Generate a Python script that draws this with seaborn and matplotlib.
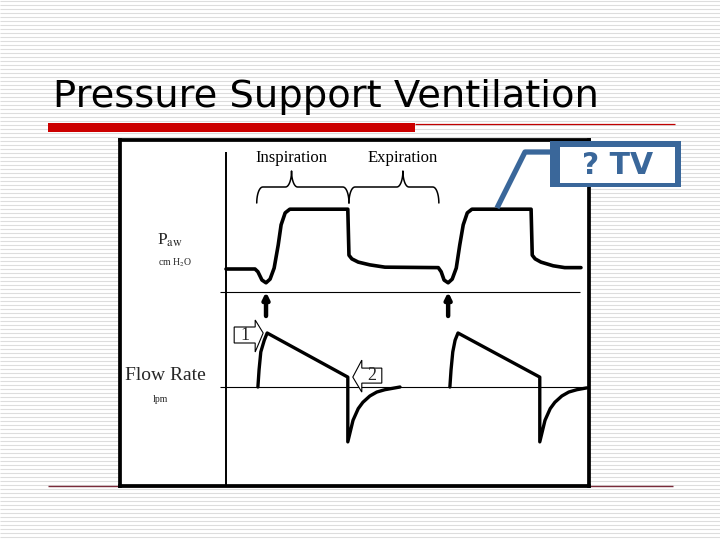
import numpy as np
import pandas as pd
import seaborn as sns
import matplotlib.pyplot as plt
from matplotlib.patches import Rectangle, Polygon

# airway pressure trace (cmH2O) against time (s)
p_time = [0.00, 0.50, 0.55, 0.62, 0.69, 0.76, 0.83, 0.90, 0.95, 1.02, 1.10,
          2.10, 2.12, 2.17, 2.28, 2.48, 2.74,
          3.66, 3.71, 3.76, 3.83, 3.90, 3.97, 4.03, 4.09, 4.16, 4.24,
          5.26, 5.28, 5.33, 5.43, 5.64, 5.84, 6.12]
p_value = [5.0, 5.0, 4.4, 2.6, 2.0, 2.8, 5.2, 10.2, 14.6, 17.2, 18.0,
           18.0, 8.0, 7.2, 6.5, 5.9, 5.4,
           5.3, 4.4, 2.6, 2.0, 2.8, 5.2, 10.2, 14.6, 17.2, 18.0,
           18.0, 8.0, 7.2, 6.5, 5.7, 5.3, 5.3]

# flow trace (lpm), one block per breath
f_breath = [1] * 14 + [2] * 14
f_time = [0.55, 0.57, 0.60, 0.66, 0.71, 2.10, 2.10, 2.19, 2.28, 2.36, 2.48, 2.60, 2.74, 3.00,
          3.86, 3.88, 3.91, 3.95, 4.00, 5.41, 5.41, 5.50, 5.59, 5.67, 5.79, 5.91, 6.05, 6.22]
f_value = [0, 19, 39, 52, 60, 11, -61, -37, -24, -17, -10, -5.6, -3, 0,
           0, 19, 39, 52, 60, 11, -61, -37, -24, -17, -10, -5.6, -3, -1]

# patient triggers and breath phases
trigger_time = [0.69, 3.83]
phase_labels = ["Inspiration", "Expiration"]
phase_start = [0.53, 2.12]
phase_end = [2.12, 3.67]
phase_mid = [1.13, 3.05]

# scale of the drawing: seconds -> px, cmH2O / lpm -> px
PX_PER_S = 58
P_ZERO, P_SCALE = 194, 4.6
F_ZERO, F_SCALE = 99, 0.9

BLUE = "#3A679A"

sns.set_theme(style="white")
plt.rcParams["font.family"] = ["DejaVu Sans"]
plt.rcParams["mathtext.fontset"] = "stix"
SERIF = ["Liberation Serif", "DejaVu Serif"]

fig = plt.figure(figsize=(7.2, 5.4), dpi=100)

# slide background with grey stripes
bg = fig.add_axes([0, 0, 1, 1], zorder=0)
bg.set_xlim(0, 720)
bg.set_ylim(540, 0)
bg.axis("off")
bg.hlines(np.arange(0.5, 540, 4), 0, 720, color="#DDDDDD", lw=0.8)
bg.hlines(486, 48, 673, color="#7A2B3A", lw=1.0)

# the waveform panel
ax = fig.add_axes([120 / 720, 1 - 486 / 540, 469 / 720, 346 / 540], zorder=1)
ax.set_facecolor("white")
ax.set_xlim((120 - 226) / PX_PER_S, (589 - 226) / PX_PER_S)
ax.set_ylim(0, 346)
ax.set_xticks([])
ax.set_yticks([])
for s in ax.spines.values():
    s.set_visible(True)
    s.set_color("black")
    s.set_linewidth(2.7)

# axis lines
ax.vlines(0, 0, 334, color="black", lw=1.4)
ax.hlines(P_ZERO, -6 / PX_PER_S, 354 / PX_PER_S, color="black", lw=0.8)
ax.hlines(F_ZERO, -6 / PX_PER_S, 6.4, color="black", lw=0.8)

p_df = pd.DataFrame({"t": p_time, "y": P_ZERO + np.array(p_value) * P_SCALE})
sns.lineplot(data=p_df, x="t", y="y", sort=False, estimator=None,
             color="black", lw=2.6, ax=ax)

f_df = pd.DataFrame({"breath": f_breath, "t": f_time,
                     "y": F_ZERO + np.array(f_value) * F_SCALE})
sns.lineplot(data=f_df, x="t", y="y", units="breath", sort=False, estimator=None,
             color="black", lw=2.4, ax=ax)
ax.set_xlabel("")
ax.set_ylabel("")

# trigger arrows
for t in trigger_time:
    ax.annotate("", xy=(t, P_ZERO), xytext=(t, P_ZERO - 24),
                arrowprops=dict(arrowstyle="-|>", lw=3.2, color="black",
                                mutation_scale=9, shrinkA=0, shrinkB=0))


def brace(x0, x1, xt, y_end=283, y_bar=299, y_tip=315, rx=6 / PX_PER_S):
    th = np.linspace(0, np.pi / 2, 12)
    xs = list(x0 + rx - rx * np.cos(th)) + list(xt - rx + rx * np.sin(th))
    ys = list(y_end + (y_bar - y_end) * np.sin(th)) + list(y_tip - (y_tip - y_bar) * np.cos(th))
    xs += list(xt + rx - rx * np.sin(th[::-1])) + list(x1 - rx + rx * np.cos(th[::-1]))
    ys += list(y_tip - (y_tip - y_bar) * np.cos(th[::-1])) + list(y_end + (y_bar - y_end) * np.sin(th[::-1]))
    return xs, ys


for lab, a, b, m in zip(phase_labels, phase_start, phase_end, phase_mid):
    bx, by = brace(a, b, m)
    ax.plot(bx, by, color="black", lw=1.1)
    ax.text(m, 328.5, lab, family=SERIF, fontsize=12, ha="center", va="center",
            color="black")

# numbered callouts on the flow trace
tip1 = (f_time[4] - 4 / PX_PER_S, F_ZERO + f_value[4] * F_SCALE)
tip2 = (f_time[5] + 5 / PX_PER_S, F_ZERO + f_value[5] * F_SCALE)
shape1 = [(-29, 6), (-8, 6), (-8, 13), (0, 0), (-8, -19), (-8, -10), (-29, -10)]
shape2 = [(29, 9), (9, 9), (9, 17), (0, 0), (9, -15), (9, -6), (29, -6)]
for tip, shape, num, off in [(tip1, shape1, "1", (-18.5, -2)), (tip2, shape2, "2", (19, 1.5))]:
    pts = [(tip[0] + dx / PX_PER_S, tip[1] + dy) for dx, dy in shape]
    ax.add_patch(Polygon(pts, closed=True, facecolor="white", edgecolor="black",
                         lw=0.8, zorder=5))
    ax.text(tip[0] + off[0] / PX_PER_S, tip[1] + off[1], num, family=SERIF,
            fontsize=13, ha="center", va="center", zorder=6)

# overlay for slide elements
ov = fig.add_axes([0, 0, 1, 1], zorder=2)
ov.set_xlim(0, 720)
ov.set_ylim(540, 0)
ov.axis("off")
ov.patch.set_alpha(0)

ov.text(53, 107, "Pressure Support Ventilation", fontsize=27.7, color="black",
        ha="left", va="baseline")
ov.add_patch(Rectangle((48, 123), 367, 9, color="#CC0000", lw=0))
ov.hlines(123.5, 415, 675, color="#C00000", lw=0.9)

# "? TV" callout
ov.plot([497, 525, 550], [208, 152, 152], color=BLUE, lw=3.8, solid_capstyle="butt")
ov.add_patch(Rectangle((550, 141), 131, 46, color=BLUE, lw=0))
ov.add_patch(Rectangle((560, 147), 115, 36, color="white", lw=0))
ov.text(617.5, 165.5, "? TV", fontsize=21.5, fontweight="bold", color=BLUE,
        ha="center", va="center")

# trace labels
ov.text(170, 245, r"P$_{\mathrm{aw}}$", family=SERIF, fontsize=12.5, ha="center", va="baseline")
ov.text(175, 263, r"cm H$_2$O", family=SERIF, fontsize=7, ha="center", va="center")
ov.text(165, 375, "Flow Rate", family=SERIF, fontsize=14, ha="center", va="center")
ov.text(160, 399, "lpm", family=SERIF, fontsize=7, ha="center", va="center")

fig.savefig("out.png", dpi=100)
